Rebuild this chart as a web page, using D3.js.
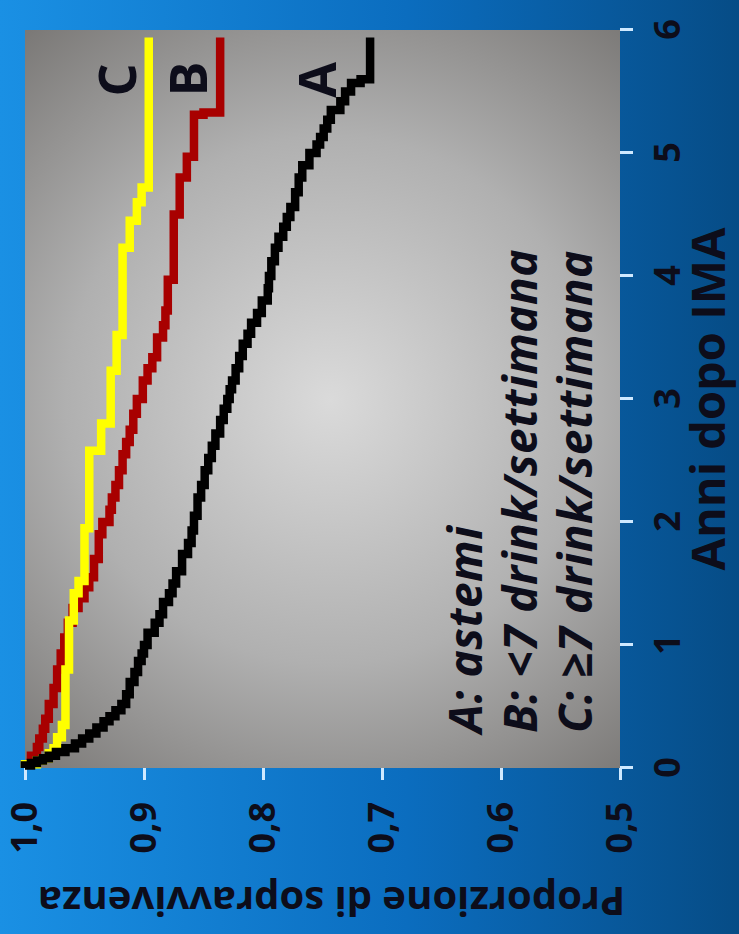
<!DOCTYPE html>
<html>
<head>
<meta charset="utf-8">
<script src="https://cdn.jsdelivr.net/npm/d3@7"></script>
<style>
  body { margin: 0; background: #0b6cbd; }
  svg { display: block; }
  text { font-family: "Open Sans", "DejaVu Sans", sans-serif; font-weight: bold; fill: #0d0d1a; }
</style>
</head>
<body>
<div id="chart"></div>
<script>
// Kaplan-Meier curves (anni, proporzione)
var timeA = [0, 0.02, 0.04, 0.06, 0.08, 0.10, 0.13, 0.16, 0.20, 0.24, 0.28, 0.33, 0.38, 0.42, 0.47, 0.52, 0.60, 0.70, 0.78, 0.87, 0.93,
    1.00, 1.10, 1.18, 1.25, 1.35, 1.42, 1.50, 1.60, 1.74, 1.83, 1.93, 2.05, 2.20, 2.30, 2.42, 2.52, 2.62, 2.72, 2.83, 2.92,
    3.00, 3.08, 3.15, 3.25, 3.35, 3.45, 3.53, 3.62, 3.70, 3.80, 3.90, 4.00, 4.12, 4.23, 4.32, 4.40, 4.48, 4.56, 4.68, 4.80, 4.90,
    5.00, 5.07, 5.13, 5.20, 5.27, 5.35, 5.42, 5.50, 5.57, 5.60, 5.94];
var survA = [1.000, 0.995, 0.990, 0.985, 0.980, 0.974, 0.966, 0.958, 0.952, 0.946, 0.940, 0.934, 0.929, 0.924, 0.919, 0.915, 0.912, 0.908, 0.905, 0.902, 0.900,
    0.897, 0.891, 0.887, 0.884, 0.879, 0.876, 0.873, 0.868, 0.863, 0.860, 0.858, 0.855, 0.852, 0.849, 0.846, 0.843, 0.840, 0.836, 0.833, 0.830,
    0.828, 0.826, 0.823, 0.820, 0.817, 0.813, 0.810, 0.805, 0.801, 0.796, 0.795, 0.793, 0.790, 0.787, 0.783, 0.780, 0.777, 0.773, 0.770, 0.767, 0.761,
    0.755, 0.752, 0.749, 0.746, 0.743, 0.735, 0.731, 0.726, 0.718, 0.710, 0.710];

var timeB = [0, 0.03, 0.10, 0.17, 0.24, 0.32, 0.40, 0.52, 0.65, 0.80, 0.93, 1.06, 1.18, 1.30, 1.38, 1.47, 1.55, 1.70, 1.90, 2.00, 2.10, 2.20, 2.30, 2.42,
    2.55, 2.65, 2.75, 2.88, 3.00, 3.15, 3.25, 3.34, 3.50, 3.60, 3.72, 3.97, 4.50, 4.80, 4.97, 5.31, 5.33, 5.94];
var survB = [1.000, 0.995, 0.990, 0.988, 0.985, 0.983, 0.980, 0.976, 0.973, 0.970, 0.967, 0.964, 0.960, 0.955, 0.950, 0.946, 0.942, 0.938, 0.935, 0.929, 0.927, 0.924, 0.921, 0.918,
    0.915, 0.912, 0.909, 0.906, 0.901, 0.897, 0.893, 0.889, 0.884, 0.882, 0.880, 0.875, 0.870, 0.864, 0.858, 0.850, 0.836, 0.836];

var timeC = [0, 0.03, 0.06, 0.08, 0.12, 0.16, 0.25, 0.35, 0.80, 1.20, 1.42, 1.52, 1.95, 2.58, 2.80, 3.23, 3.52, 4.23, 4.45, 4.60, 4.72, 5.94];
var survC = [1.000, 0.990, 0.985, 0.980, 0.976, 0.973, 0.969, 0.966, 0.963, 0.959, 0.955, 0.950, 0.946, 0.936, 0.928, 0.923, 0.918, 0.912, 0.906, 0.902, 0.896, 0.896];

var yearTicks = [0, 1, 2, 3, 4, 5, 6];
var survTicks = [1.0, 0.9, 0.8, 0.7, 0.6, 0.5];
var legendLines = ["A: astemi", "B: <7 drink/settimana", "C: \u22657 drink/settimana"];

var W = 739, H = 934;

var svg = d3.select("#chart").append("svg")
    .attr("width", W)
    .attr("height", H);

var defs = svg.append("defs");

var bg = defs.append("linearGradient").attr("id", "bg")
    .attr("x1", 0).attr("y1", 0).attr("x2", 1).attr("y2", 0);
bg.append("stop").attr("offset", 0).attr("stop-color", "#1a90e4");
bg.append("stop").attr("offset", 0.55).attr("stop-color", "#0b6dbf");
bg.append("stop").attr("offset", 1).attr("stop-color", "#064c86");

svg.append("rect").attr("width", W).attr("height", H).attr("fill", "url(#bg)");

// the slide shows the chart turned a quarter turn to the left
var g = svg.append("g")
    .attr("transform", "translate(0," + H + ") rotate(-90)");

var x = d3.scaleLinear().domain([0, 6]).range([166, 904]);
var y = d3.scaleLinear().domain([0.5, 1]).range([620, 25]);

var pg = defs.append("radialGradient").attr("id", "panel")
    .attr("gradientUnits", "userSpaceOnUse")
    .attr("cx", 534).attr("cy", 330).attr("r", 480);
pg.append("stop").attr("offset", 0).attr("stop-color", "#dadada");
pg.append("stop").attr("offset", 0.55).attr("stop-color", "#b0b0b0");
pg.append("stop").attr("offset", 1).attr("stop-color", "#7a7876");

g.append("rect")
    .attr("x", x(0))
    .attr("y", y(1))
    .attr("width", x(6) - x(0))
    .attr("height", y(0.5) - y(1))
    .attr("fill", "url(#panel)");

// axes
var xAxis = g.append("g")
    .attr("transform", "translate(0," + y(0.5) + ")")
    .call(d3.axisBottom(x).tickValues(yearTicks).tickSize(13).tickPadding(21).tickFormat(d3.format("d")));

var yAxis = g.append("g")
    .attr("transform", "translate(" + x(0) + ",0)")
    .call(d3.axisLeft(y).tickValues(survTicks).tickSize(12).tickPadding(22)
        .tickFormat(function(d){ return d3.format(".1f")(d).replace(".", ","); }));

[xAxis, yAxis].forEach(function(a){
    a.select(".domain").remove();
    a.selectAll(".tick line").attr("stroke", "#cfe9ff").attr("stroke-width", 3);
    a.selectAll(".tick text")
        .attr("fill", "#0d0d1a")
        .style("font-size", "36px")
        .style("font-weight", "bold")
        .style("font-family", "'Open Sans', sans-serif");
});

g.append("text")
    .attr("x", (x(0) + x(6)) / 2)
    .attr("y", 725)
    .attr("text-anchor", "middle")
    .style("font-size", "47px")
    .text("Anni dopo IMA");

g.append("text")
    .attr("transform", "translate(47," + ((y(0.5) + y(1)) / 2 + 9) + ") rotate(-90)")
    .attr("text-anchor", "middle")
    .style("font-size", "40px")
    .text("Proporzione di sopravvivenza");

// curves
var line = d3.line()
    .x(function(d){ return x(d[0]); })
    .y(function(d){ return y(d[1]); })
    .curve(d3.curveStepAfter);

var series = [
    {name: "B", t: timeB, s: survB, color: "#a80000"},
    {name: "C", t: timeC, s: survC, color: "#ffff00"},
    {name: "A", t: timeA, s: survA, color: "#000000"}
];

g.selectAll(".km")
    .data(series)
    .enter().append("path")
    .attr("class", "km")
    .attr("fill", "none")
    .attr("stroke", function(d){ return d.color; })
    .attr("stroke-width", 8.5)
    .attr("d", function(d){ return line(d3.zip(d.t, d.s)); });

// curve names near the end of each curve
var curveLabels = [
    {name: "C", t: 5.46, s: 0.907},
    {name: "B", t: 5.46, s: 0.847},
    {name: "A", t: 5.45, s: 0.739}
];
g.selectAll(".clab")
    .data(curveLabels)
    .enter().append("text")
    .attr("class", "clab")
    .attr("x", function(d){ return x(d.t); })
    .attr("y", function(d){ return y(d.s); })
    .style("font-size", "52px")
    .text(function(d){ return d.name; });

// legend inside the panel
g.selectAll(".leg")
    .data(legendLines)
    .enter().append("text")
    .attr("class", "leg")
    .attr("x", x(0.285))
    .attr("y", function(d, i){ return 482 + i * 55; })
    .style("font-size", "46px")
    .style("font-style", "italic")
    .style("letter-spacing", "0.5px")
    .text(function(d){ return d; });
</script>
</body>
</html>
